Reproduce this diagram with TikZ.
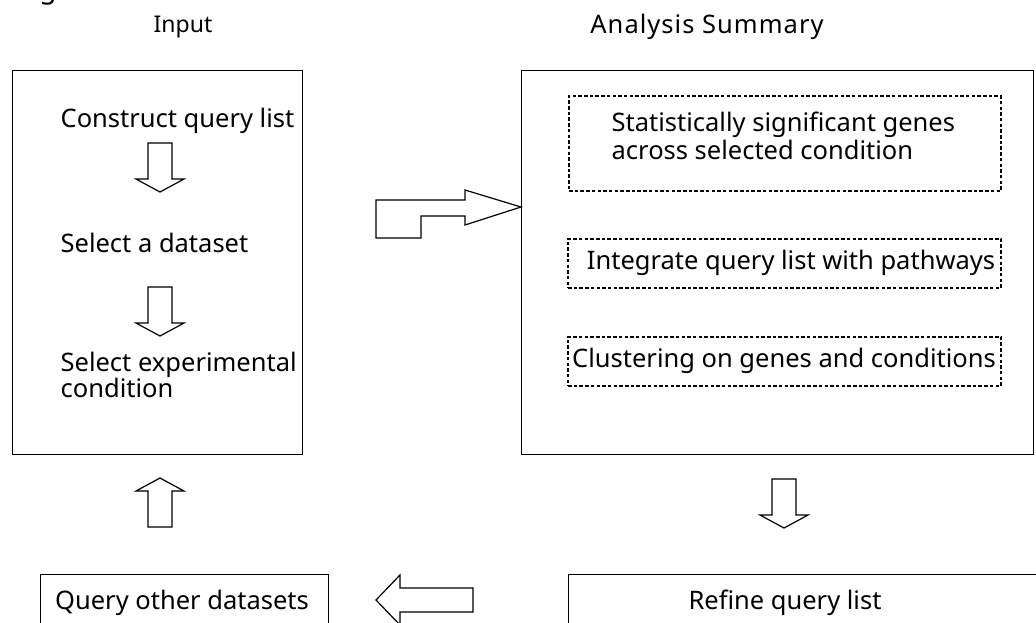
\documentclass[tikz,border=0pt]{standalone}
\usepackage{fontspec}
\setmainfont{Noto Sans}
\usetikzlibrary{positioning}

\begin{document}
\begin{tikzpicture}[x=1pt, y=-1pt, line width=1.3pt,
	font=\fontsize{25.5}{28}\selectfont,
	box/.style={draw, rectangle, anchor=north west, inner sep=0pt},
	dotbox/.style={box, line width=2pt, dash pattern=on 3.5pt off 2.2pt},
	label/.style={inner sep=0pt, align=left},
	blockarrow/.style={draw, line width=1.2pt, fill=white, line join=miter},
	darrow/.pic={\draw[blockarrow] (-12,0) -- (12,0) -- (12,36) -- (24,36) -- (0,49) -- (-24,36) -- (-12,36) -- cycle;}]
	\useasboundingbox (0,0) rectangle (1036,622);
	\node [anchor=base, font=\fontsize{28}{28}\selectfont] (figg) at (48,-2) {g};
	% headings
	\node [font=\fontsize{23}{28}\selectfont] (input) at (183,27) {Input};
	\node [font=\fontsize{25.5}{28}\selectfont\addfontfeature{LetterSpace=4}] (summary) at (707,27) {Analysis Summary};
	% main boxes
	\node [box, minimum width=290pt, minimum height=384pt] (inbox) at (12,70) {};
	\node [box, minimum width=512pt, minimum height=384pt] (sumbox) at (521,70) {};
	\node [box, minimum width=288pt, minimum height=70pt] (other) at (40,574) {};
	\node [box, minimum width=500pt, minimum height=70pt] (refine) at (568,574) {};
	% input steps
	\node [label, anchor=west] (construct) at (60,121) {Construct query list};
	\node [label, anchor=west] (dataset) at (60,243) {Select a dataset};
	\node [label, anchor=west, font=\fontsize{25.5}{24}\selectfont] (condition) at (60,375) {Select experimental\\condition};
	\pic at (160,143) {darrow};
	\pic at (160,287) {darrow};
	% analysis parts
	\node [dotbox, minimum width=432pt, minimum height=95pt] (genes) at (568,95) {};
	\node [dotbox, minimum width=433pt, minimum height=49pt] (pathways) at (567,238) {};
	\node [dotbox, minimum width=433pt, minimum height=49pt] (cluster) at (567,336) {};
	\node [label, anchor=west] (genestext) at (611,136) {Statistically significant genes\\across selected condition};
	\node [label] (pathtext) at (791,263) {Integrate query list with pathways};
	\node [label] (clustext) at (784,361) {Clustering on genes and conditions};
	% bottom row
	\node [label] (othertext) at (182,603) {Query other datasets};
	\node [label] (refinetext) at (785,603) {Refine query list};
	% block arrows
	\draw [blockarrow] (376,200) -- (465,200) -- (465,190) -- (sumbox.west |- 0,207) -- (465,225) -- (465,216) -- (421,216) -- (421,238) -- (376,238) -- cycle;
	\pic at (784,479) {darrow};
	\pic [rotate=180] at (160,527) {darrow};
	\draw [blockarrow] (376,600) -- (400,575) -- (400,588) -- (473,588) -- (473,612) -- (400,612) -- (400,625) -- cycle;
\end{tikzpicture}
\end{document}
